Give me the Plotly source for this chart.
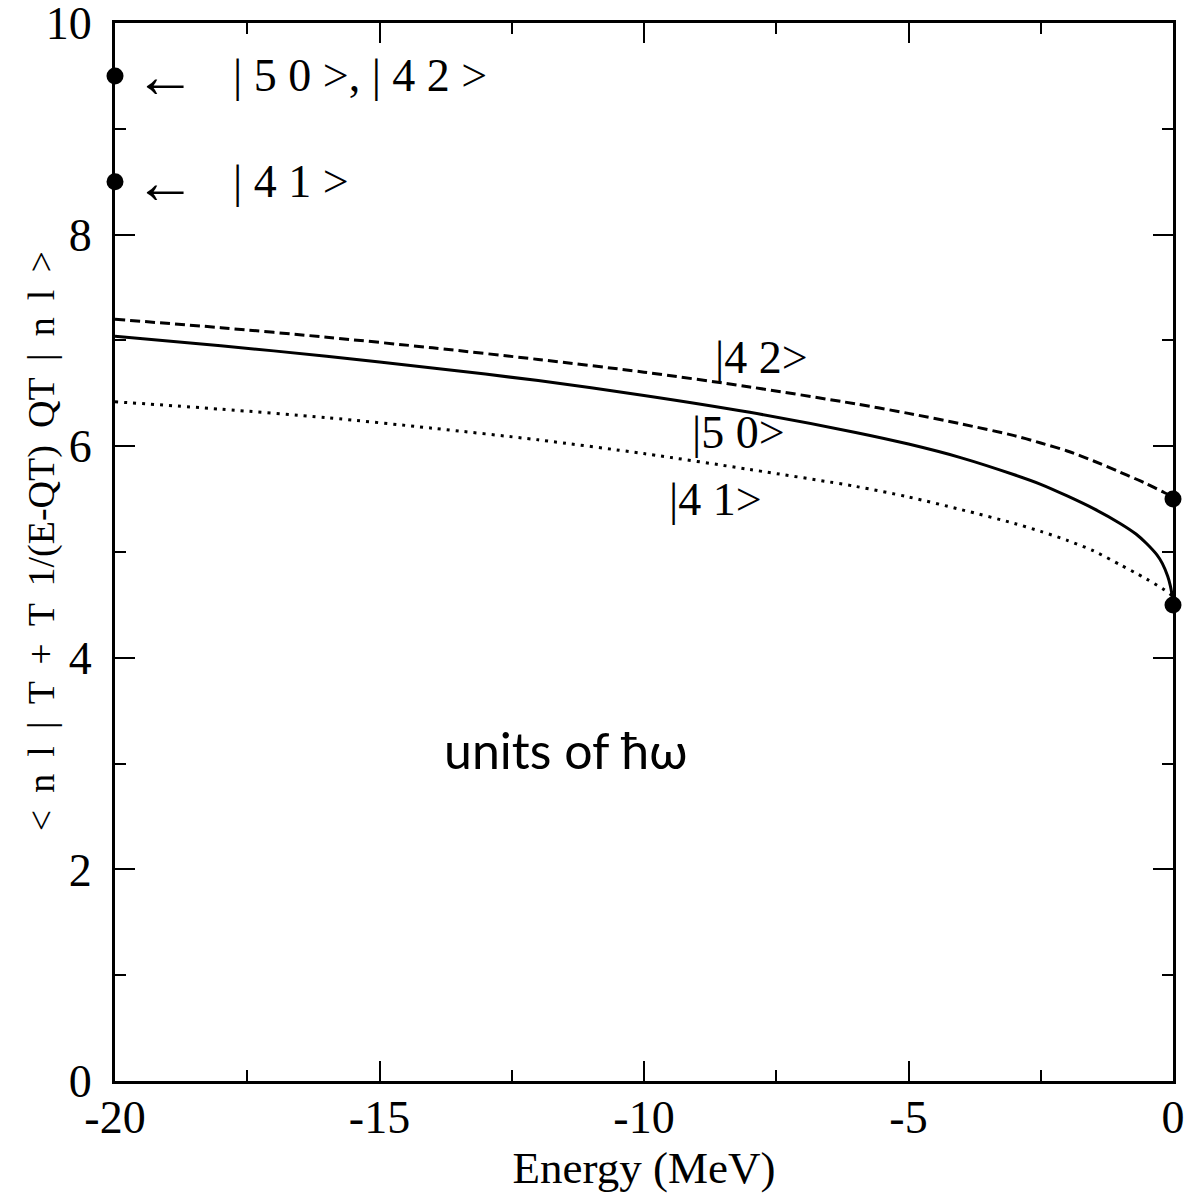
import plotly.graph_objects as go

# Energy grid (MeV) shared by the three curves
energy = [-20, -18, -16, -14, -12, -10, -8, -6, -5, -4, -3, -2.5, -2, -1.5, -1, -0.7, -0.5, -0.3, -0.2, -0.1, -0.05, -0.02, 0]

# Expectation values in units of hbar*omega
value_50 = [7.04, 6.95, 6.85, 6.74, 6.62, 6.48, 6.32, 6.13, 6.02, 5.89, 5.73, 5.64, 5.53, 5.41, 5.27, 5.17, 5.08, 4.97, 4.89, 4.77, 4.68, 4.60, 4.50]
value_42 = [7.20, 7.12, 7.03, 6.93, 6.82, 6.70, 6.56, 6.40, 6.31, 6.21, 6.10, 6.03, 5.955, 5.86, 5.755, 5.69, 5.645, 5.595, 5.57, 5.545, 5.525, 5.51, 5.50]
value_41 = [6.42, 6.35, 6.27, 6.17, 6.06, 5.93, 5.78, 5.62, 5.52, 5.40, 5.27, 5.195, 5.11, 5.01, 4.88, 4.80, 4.745, 4.685, 4.655, 4.62, 4.60, 4.588, 4.58]

# Limiting values marked on the axes
limit_x = [-20, -20, 0, 0]
limit_y = [9.5, 8.5, 5.5, 4.5]

x_ticks = [-20, -15, -10, -5, 0]
x_tick_text = ["-20", "-15", "-10", "-5", "0"]
y_ticks = [0, 2, 4, 6, 8, 10]
y_tick_text = ["0", "2", "4", "6", "8", "10"]

serif = "Liberation Serif, Times New Roman, serif"

fig = go.Figure()
fig.add_trace(go.Scatter(x=energy, y=value_42, mode="lines", line_shape="spline",
                         line=dict(color="black", width=3, dash="10px,5px", smoothing=0.8)))
fig.add_trace(go.Scatter(x=energy, y=value_50, mode="lines", line_shape="spline",
                         line=dict(color="black", width=3, smoothing=0.8)))
fig.add_trace(go.Scatter(x=energy, y=value_41, mode="lines", line_shape="spline",
                         line=dict(color="black", width=3, dash="3px,6px", smoothing=0.8)))
fig.add_trace(go.Scatter(x=limit_x, y=limit_y, mode="markers", cliponaxis=False,
                         marker=dict(color="black", size=17)))

ann_font = dict(family=serif, size=46, color="black")
arrow_font = dict(family=serif, size=62, color="black")
fig.add_annotation(x=-19.68, y=9.5, text="←", showarrow=False, xanchor="left", font=arrow_font)
fig.add_annotation(x=-17.8, y=9.5, text="| 5 0 >, | 4 2 >", showarrow=False, xanchor="left", font=ann_font)
fig.add_annotation(x=-19.68, y=8.5, text="←", showarrow=False, xanchor="left", font=arrow_font)
fig.add_annotation(x=-17.8, y=8.5, text="| 4 1 >", showarrow=False, xanchor="left", font=ann_font)

fig.add_annotation(x=-7.77, y=6.84, text="|4 2>", showarrow=False, font=ann_font)
fig.add_annotation(x=-8.22, y=6.13, text="|5 0>", showarrow=False, font=ann_font)
fig.add_annotation(x=-8.64, y=5.50, text="|4 1>", showarrow=False, font=ann_font)

fig.add_annotation(x=-11.49, y=3.13, text="units of ħω", showarrow=False,
                   font=dict(family="Lato, Noto Sans, sans-serif", size=50, color="black"))

# Vertical axis title, slightly widened spacing
sp = " \u2009"
y_title = sp.join(["<", "n", "l", "|", "T", "+", "T", "1/(E-QT)", "QT", "|", "n", "l", ">"])
fig.add_annotation(xref="paper", yref="paper", x=-0.0700, y=0.51, text=y_title,
                   textangle=-90, showarrow=False, xanchor="center", yanchor="middle",
                   font=dict(family=serif, size=38, color="black"))

axis_common = dict(
    showline=True, linecolor="black", linewidth=3, mirror="ticks",
    ticks="inside", ticklen=20, tickwidth=2, tickcolor="black",
    showgrid=False, zeroline=False, ticklabeloverflow="allow", automargin=False,
    tickfont=dict(family=serif, size=46, color="black"),
)

fig.update_xaxes(range=[-20, 0], tickvals=x_ticks, ticktext=x_tick_text, ticklabelstandoff=-6,
                 minor=dict(ticks="inside", ticklen=11, tickwidth=2, tickcolor="black", dtick=2.5, showgrid=False),
                 title=dict(text="Energy (MeV)", font=dict(family=serif, size=45, color="black"), standoff=0),
                 **axis_common)
fig.update_yaxes(range=[0, 10], tickvals=y_ticks, ticktext=y_tick_text, ticklabelstandoff=11,
                 minor=dict(ticks="inside", ticklen=11, tickwidth=2, tickcolor="black", dtick=1, showgrid=False),
                 **axis_common)

fig.update_layout(
    width=1200, height=1193,
    margin=dict(l=115, r=27, t=23, b=112),
    plot_bgcolor="white", paper_bgcolor="white",
    showlegend=False,
)

fig.write_html("out.html")
